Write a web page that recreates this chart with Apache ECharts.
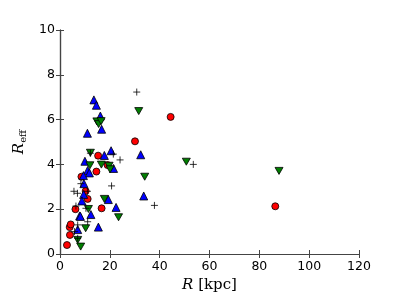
<!DOCTYPE html>
<html><head><meta charset="utf-8">
<script src="https://cdn.jsdelivr.net/npm/echarts@6/dist/echarts.min.js"></script>
<style>html,body{margin:0;padding:0;background:#fff}#c{width:399px;height:299px}</style>
</head><body><div id="c"></div>
<script>
const xTicks = [0, 20, 40, 60, 80, 100, 120];
const yTicks = [0, 2, 4, 6, 8, 10];
const redCircles = [[2.8,0.40],[4.0,0.85],[3.9,1.2],[4.3,1.32],[6.2,2.0],[8.6,3.45],[10.3,2.81],[11.1,2.46],[14.6,3.68],[15.3,4.39],[16.7,2.04],[19.1,3.97],[30.1,5.03],[44.4,6.12],[86.4,2.13]];
const blueUp = [[13.6,6.88],[14.6,6.64],[16.2,6.16],[16.7,5.57],[11.0,5.39],[10.0,4.14],[17.8,4.40],[20.5,4.61],[21.5,3.82],[11.1,3.73],[11.8,3.62],[9.4,3.5],[9.6,3.14],[9.5,2.66],[8.8,2.37],[7.9,1.70],[8.2,1.68],[12.4,1.76],[7.1,1.09],[15.4,1.2],[19.4,2.43],[22.5,2.08],[32.4,4.43],[33.6,2.59]];
const greenDown = [[14.8,5.92],[15.5,5.8],[16.5,5.93],[12.2,4.52],[12.0,3.96],[16.6,3.99],[19.7,3.94],[20.1,3.78],[17.8,2.46],[11.4,2.01],[10.3,1.15],[7.1,0.63],[8.3,0.33],[23.5,1.64],[31.6,6.38],[34.0,3.45],[50.7,4.12],[87.9,3.71]];
const plusPts = [[30.8,7.23],[24.1,4.2],[53.5,4.0],[20.7,3.04],[37.9,2.17],[21.4,4.46],[5.6,2.8],[7.0,2.71],[8.4,3.14],[11.0,2.8],[11.1,1.44],[7.1,1.3],[5.8,1.0],[7.1,0.7],[6.4,2.14],[10.4,2.04],[12.2,4.5]];

const chart = echarts.init(document.getElementById('c'), null, {renderer:'canvas'});
const axLine = {show:true, lineStyle:{color:'#444', width:1.2}};
const tickIn = {show:true, inside:true, length:4, lineStyle:{color:'#444'}};
const lblFont = {fontFamily:'DejaVu Sans', fontSize:12.5, color:'#000'};
const mkX = (pos, show) => ({type:'value', position:pos, min:0, max:120, interval:20,
  axisLine:axLine, axisTick:tickIn, splitLine:{show:false},
  axisLabel: show ? Object.assign({margin:6, formatter:v=>xTicks.includes(v)?String(v):''}, lblFont) : {show:false}});
const mkY = (pos, show) => ({type:'value', position:pos, min:0, max:10, interval:2,
  axisLine:axLine, axisTick:tickIn, splitLine:{show:false},
  axisLabel: show ? Object.assign({margin:5, formatter:v=>yTicks.includes(v)?String(v):''}, lblFont) : {show:false}});
const xMain = mkX('bottom', true);
xMain.name = '{i|R}{r| [kpc]}';
xMain.nameLocation = 'middle';
xMain.nameGap = 24;
xMain.nameTextStyle = {rich:{i:{fontFamily:'DejaVu Serif', fontStyle:'italic', fontSize:15, color:'#000'}, r:{fontFamily:'DejaVu Serif', fontSize:15, color:'#000'}}};
const yMain = mkY('left', true);
yMain.name = '{i|R}{s|eff}';
yMain.nameLocation = 'middle';
yMain.nameGap = 26;
yMain.nameRotate = 90;
yMain.nameTextStyle = {rich:{i:{fontFamily:'DejaVu Serif', fontStyle:'italic', fontSize:15, color:'#000'}, s:{fontFamily:'DejaVu Serif', fontSize:10, color:'#000', verticalAlign:'bottom', padding:[8,0,0,0]}}};

const base = {type:'scatter', animation:false, silent:true};
chart.setOption({
  backgroundColor:'#fff',
  grid:{left:60, top:30, width:299, height:224, containLabel:false},
  xAxis:[xMain, mkX('top', false)],
  yAxis:[yMain, mkY('right', false)],
  series:[
    Object.assign({}, base, {data:redCircles, symbol:'circle', symbolSize:7, itemStyle:{color:'#ff0000', borderColor:'#000', borderWidth:0.8, opacity:1}}),
    Object.assign({}, base, {data:blueUp, symbol:'triangle', symbolSize:8, itemStyle:{color:'#0000ff', borderColor:'#000', borderWidth:0.8, opacity:1}}),
    Object.assign({}, base, {data:greenDown, symbol:'path://M0,0L2,0L1,1.8Z', symbolSize:[8,7], itemStyle:{color:'#007f00', borderColor:'#000', borderWidth:0.8, opacity:1}}),
    Object.assign({}, base, {data:plusPts, symbol:'path://M1,0L1,2M0,1L2,1', symbolSize:7, itemStyle:{color:'none', borderColor:'#000', borderWidth:0.8, opacity:1}})
  ]
});
</script></body></html>
